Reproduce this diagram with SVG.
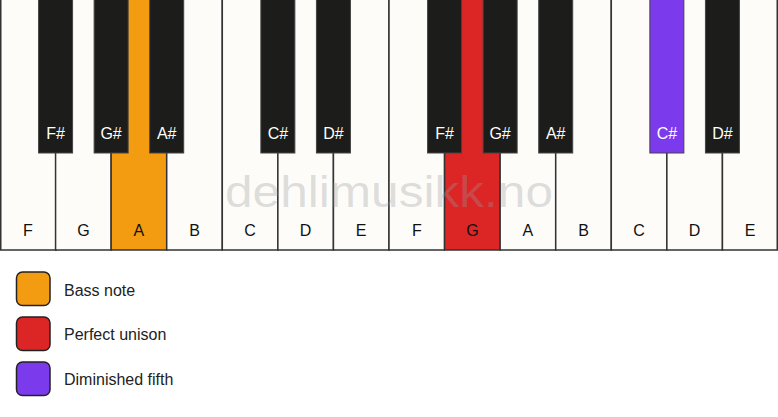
<svg xmlns="http://www.w3.org/2000/svg" width="778" height="417" viewBox="0 0 778 417">
<style>
.w{fill:#fdfcf9;stroke:#333;stroke-width:1.5}
.b{fill:#1c1c1a;stroke:#444;stroke-width:1}
.wl{font-family:"Liberation Sans",Arial,sans-serif;font-size:16px;fill:#111;text-anchor:middle}
.bl{font-family:"Liberation Sans",Arial,sans-serif;font-size:16px;fill:#fff;text-anchor:middle}
.lg{stroke:#222;stroke-width:1.5}
.lt{font-family:"Liberation Sans",Arial,sans-serif;font-size:16px;fill:#222}
.wm{font-family:"Liberation Sans",Arial,sans-serif;font-size:45px;fill:#999;fill-opacity:0.32;text-anchor:middle}
</style>
<rect width="778" height="417" fill="#fff"/>
<g id="white-keys">
<g id="w-F1"><rect class="w" x="0.75" y="-1" width="55.57" height="251"/><text class="wl" x="27.8" y="236">F</text></g>
<g id="w-G1"><rect class="w" x="55.57" y="-1" width="55.57" height="251"/><text class="wl" x="83.4" y="236">G</text></g>
<g id="w-A1"><rect class="w" x="111.14" y="-1" width="55.57" height="251" style="fill:#f39c12"/><text class="wl" x="138.9" y="236">A</text></g>
<g id="w-B1"><rect class="w" x="166.71" y="-1" width="55.57" height="251"/><text class="wl" x="194.5" y="236">B</text></g>
<g id="w-C1"><rect class="w" x="222.29" y="-1" width="55.57" height="251"/><text class="wl" x="250.1" y="236">C</text></g>
<g id="w-D1"><rect class="w" x="277.86" y="-1" width="55.57" height="251"/><text class="wl" x="305.6" y="236">D</text></g>
<g id="w-E1"><rect class="w" x="333.43" y="-1" width="55.57" height="251"/><text class="wl" x="361.2" y="236">E</text></g>
<g id="w-F2"><rect class="w" x="389" y="-1" width="55.57" height="251"/><text class="wl" x="416.8" y="236">F</text></g>
<g id="w-G2"><rect class="w" x="444.57" y="-1" width="55.57" height="251" style="fill:#dc2626"/><text class="wl" x="472.4" y="236">G</text></g>
<g id="w-A2"><rect class="w" x="500.14" y="-1" width="55.57" height="251"/><text class="wl" x="527.9" y="236">A</text></g>
<g id="w-B2"><rect class="w" x="555.71" y="-1" width="55.57" height="251"/><text class="wl" x="583.5" y="236">B</text></g>
<g id="w-C2"><rect class="w" x="611.29" y="-1" width="55.57" height="251"/><text class="wl" x="639.1" y="236">C</text></g>
<g id="w-D2"><rect class="w" x="666.86" y="-1" width="55.57" height="251"/><text class="wl" x="694.6" y="236">D</text></g>
<g id="w-E2"><rect class="w" x="722.43" y="-1" width="54.82" height="251"/><text class="wl" x="750.2" y="236">E</text></g>
</g>
<text class="wm" x="389" y="207" textLength="328" lengthAdjust="spacingAndGlyphs">dehlimusikk.no</text>
<g id="black-keys">
<g id="b-Fs1"><rect class="b" x="38.57" y="-1" width="34" height="154"/><text class="bl" x="55.6" y="139">F#</text></g>
<g id="b-Gs1"><rect class="b" x="94.14" y="-1" width="34" height="154"/><text class="bl" x="111.1" y="139">G#</text></g>
<g id="b-As1"><rect class="b" x="149.71" y="-1" width="34" height="154"/><text class="bl" x="166.7" y="139">A#</text></g>
<g id="b-Cs1"><rect class="b" x="260.86" y="-1" width="34" height="154"/><text class="bl" x="277.9" y="139">C#</text></g>
<g id="b-Ds1"><rect class="b" x="316.43" y="-1" width="34" height="154"/><text class="bl" x="333.4" y="139">D#</text></g>
<g id="b-Fs2"><rect class="b" x="427.57" y="-1" width="34" height="154"/><text class="bl" x="444.6" y="139">F#</text></g>
<g id="b-Gs2"><rect class="b" x="483.14" y="-1" width="34" height="154"/><text class="bl" x="500.1" y="139">G#</text></g>
<g id="b-As2"><rect class="b" x="538.71" y="-1" width="34" height="154"/><text class="bl" x="555.7" y="139">A#</text></g>
<g id="b-Cs2"><rect class="b" x="649.86" y="-1" width="34" height="154" style="fill:#7c3aed"/><text class="bl" x="666.9" y="139">C#</text></g>
<g id="b-Ds2"><rect class="b" x="705.43" y="-1" width="34" height="154"/><text class="bl" x="722.4" y="139">D#</text></g>
</g>
<g id="legend">
<g id="lg-bass"><rect class="lg" x="16.5" y="272" width="33.5" height="33.5" rx="6" fill="#f39c12"/><text class="lt" x="64" y="296">Bass note</text></g>
<g id="lg-unison"><rect class="lg" x="16.5" y="317" width="33.5" height="33.5" rx="6" fill="#dc2626"/><text class="lt" x="64" y="340">Perfect unison</text></g>
<g id="lg-dim5"><rect class="lg" x="16.5" y="362" width="33.5" height="33.5" rx="6" fill="#7c3aed"/><text class="lt" x="64" y="385">Diminished fifth</text></g>
</g>
<g id="connectors"/>
</svg>
